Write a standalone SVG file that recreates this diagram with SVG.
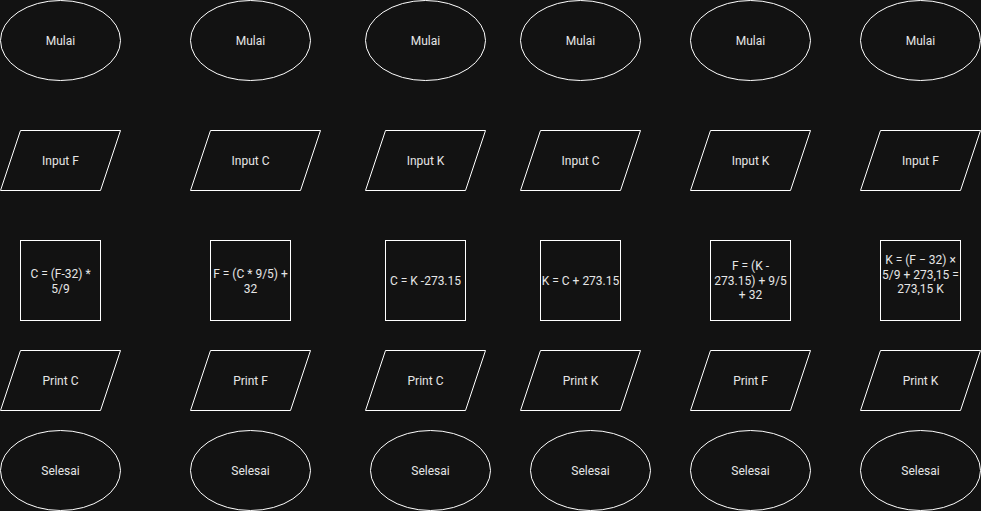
<svg xmlns="http://www.w3.org/2000/svg" width="981" height="511" viewBox="0 0 981 511">
<style>
.s{fill:none;stroke:#ffffff;stroke-width:1}
text{font-family:Roboto,"Liberation Sans",sans-serif;font-size:12px;fill:#e6e6e6;text-anchor:middle}
</style>
<rect x="0" y="0" width="981" height="511" fill="#121212"/>
<g id="connectors"/>
<!-- column 1 -->
<g id="c1-start"><ellipse class="s" cx="60.5" cy="40.5" rx="60" ry="40"/><text x="60.5" y="44.5">Mulai</text></g>
<g id="c1-input"><polygon class="s" points="20.5,130.5 120.5,130.5 100.5,190.5 0.5,190.5"/><text x="60.5" y="164.5">Input F</text></g>
<g id="c1-proc"><rect class="s" x="20.5" y="240.5" width="80" height="80"/><text x="60.5" y="277.5">C = (F-32) *</text><text x="60.5" y="293">5/9</text></g>
<g id="c1-print"><polygon class="s" points="20.5,350.5 120.5,350.5 100.5,410.5 0.5,410.5"/><text x="60.5" y="384.5">Print C</text></g>
<g id="c1-end"><ellipse class="s" cx="60.5" cy="470.5" rx="60" ry="40"/><text x="60.5" y="474.5">Selesai</text></g>
<!-- column 2 -->
<g id="c2-start"><ellipse class="s" cx="250.5" cy="40.5" rx="60" ry="40"/><text x="250.5" y="44.5">Mulai</text></g>
<g id="c2-input"><polygon class="s" points="210.5,130.5 320.5,130.5 300.5,190.5 190.5,190.5"/><text x="250.5" y="164.5">Input C</text></g>
<g id="c2-proc"><rect class="s" x="210.5" y="240.5" width="80" height="80"/><text x="250.5" y="277.5">F = (C * 9/5) +</text><text x="250.5" y="293">32</text></g>
<g id="c2-print"><polygon class="s" points="210.5,350.5 310.5,350.5 290.5,410.5 190.5,410.5"/><text x="250.5" y="384.5">Print F</text></g>
<g id="c2-end"><ellipse class="s" cx="250.5" cy="470.5" rx="60" ry="40"/><text x="250.5" y="474.5">Selesai</text></g>
<!-- column 3 -->
<g id="c3-start"><ellipse class="s" cx="425.5" cy="40.5" rx="60" ry="40"/><text x="425.5" y="44.5">Mulai</text></g>
<g id="c3-input"><polygon class="s" points="385.5,130.5 485.5,130.5 465.5,190.5 365.5,190.5"/><text x="425.5" y="164.5">Input K</text></g>
<g id="c3-proc"><rect class="s" x="385.5" y="240.5" width="80" height="80"/><text x="425.5" y="284.5">C = K -273.15</text></g>
<g id="c3-print"><polygon class="s" points="385.5,350.5 485.5,350.5 465.5,410.5 365.5,410.5"/><text x="425.5" y="384.5">Print C</text></g>
<g id="c3-end"><ellipse class="s" cx="430.5" cy="470.5" rx="60" ry="40"/><text x="430.5" y="474.5">Selesai</text></g>
<!-- column 4 -->
<g id="c4-start"><ellipse class="s" cx="580.5" cy="40.5" rx="60" ry="40"/><text x="580.5" y="44.5">Mulai</text></g>
<g id="c4-input"><polygon class="s" points="540.5,130.5 640.5,130.5 620.5,190.5 520.5,190.5"/><text x="580.5" y="164.5">Input C</text></g>
<g id="c4-proc"><rect class="s" x="540.5" y="240.5" width="80" height="80"/><text x="580.5" y="284.5">K = C + 273.15</text></g>
<g id="c4-print"><polygon class="s" points="540.5,350.5 640.5,350.5 620.5,410.5 520.5,410.5"/><text x="580.5" y="384.5">Print K</text></g>
<g id="c4-end"><ellipse class="s" cx="590.5" cy="470.5" rx="60" ry="40"/><text x="590.5" y="474.5">Selesai</text></g>
<!-- column 5 -->
<g id="c5-start"><ellipse class="s" cx="750.5" cy="40.5" rx="60" ry="40"/><text x="750.5" y="44.5">Mulai</text></g>
<g id="c5-input"><polygon class="s" points="710.5,130.5 810.5,130.5 790.5,190.5 690.5,190.5"/><text x="750.5" y="164.5">Input K</text></g>
<g id="c5-proc"><rect class="s" x="710.5" y="240.5" width="80" height="80"/><text x="750.5" y="270">F = (K -</text><text x="750.5" y="284.5">273.15) + 9/5</text><text x="750.5" y="299">+ 32</text></g>
<g id="c5-print"><polygon class="s" points="710.5,350.5 810.5,350.5 790.5,410.5 690.5,410.5"/><text x="750.5" y="384.5">Print F</text></g>
<g id="c5-end"><ellipse class="s" cx="750.5" cy="470.5" rx="60" ry="40"/><text x="750.5" y="474.5">Selesai</text></g>
<!-- column 6 -->
<g id="c6-start"><ellipse class="s" cx="920.5" cy="40.5" rx="60" ry="40"/><text x="920.5" y="44.5">Mulai</text></g>
<g id="c6-input"><polygon class="s" points="880.5,130.5 980.5,130.5 960.5,190.5 860.5,190.5"/><text x="920.5" y="164.5">Input F</text></g>
<g id="c6-proc"><rect class="s" x="880.5" y="240.5" width="80" height="80"/><text x="920.5" y="264">K = (F − 32) ×</text><text x="920.5" y="278.5">5/9 + 273,15 =</text><text x="920.5" y="293">273,15 K</text></g>
<g id="c6-print"><polygon class="s" points="880.5,350.5 980.5,350.5 960.5,410.5 860.5,410.5"/><text x="920.5" y="384.5">Print K</text></g>
<g id="c6-end"><ellipse class="s" cx="920.5" cy="470.5" rx="60" ry="40"/><text x="920.5" y="474.5">Selesai</text></g>
</svg>
